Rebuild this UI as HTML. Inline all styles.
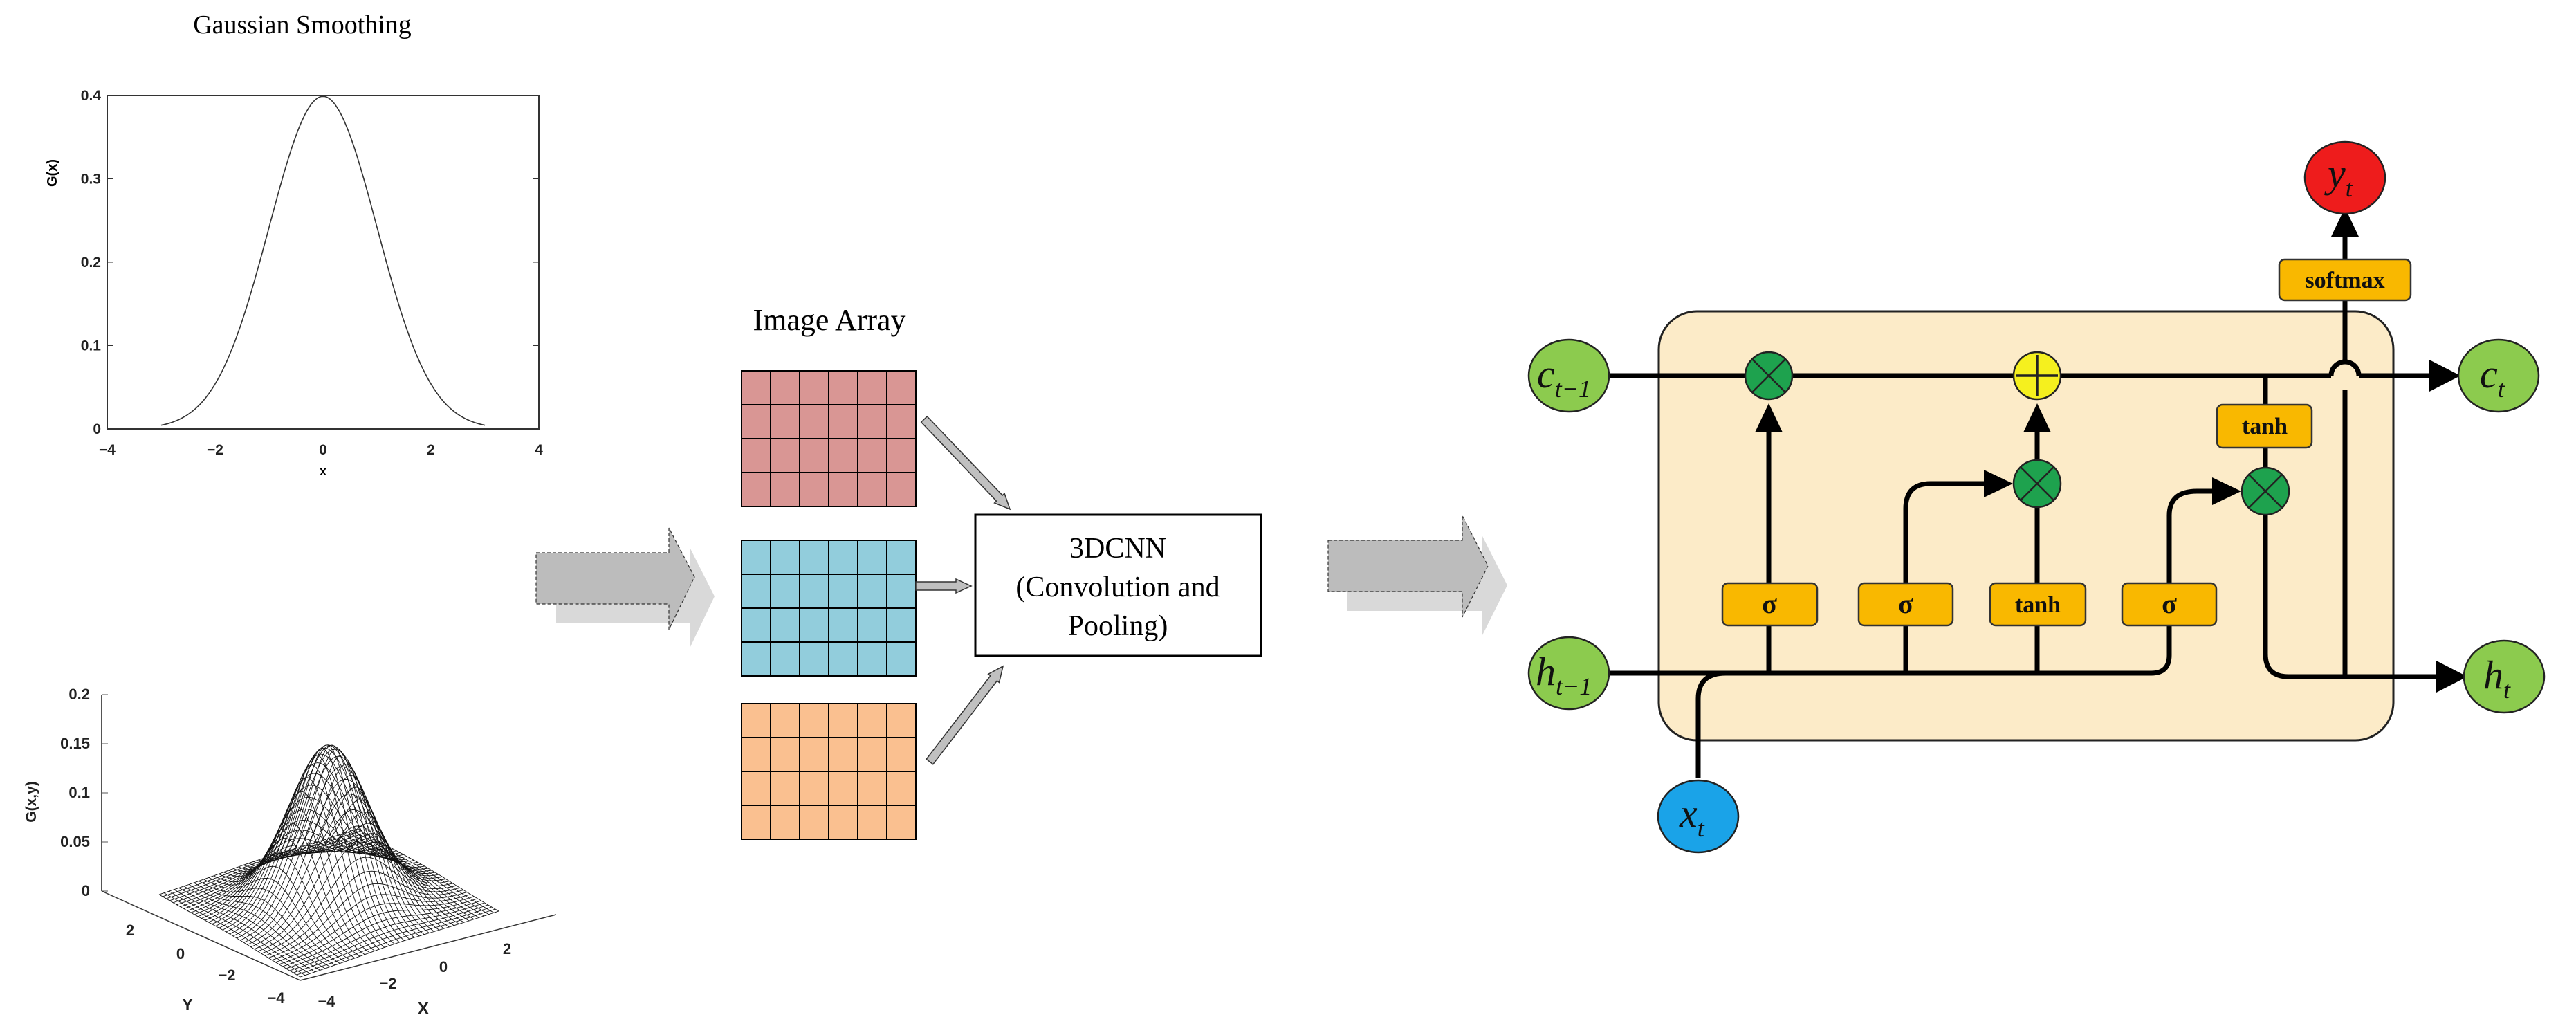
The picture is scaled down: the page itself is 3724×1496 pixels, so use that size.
<!DOCTYPE html>
<html><head><meta charset="utf-8"><style>
html,body{margin:0;padding:0;background:#fff;}
svg{display:block;}
</style></head><body>
<svg id="s" width="3724" height="1496" viewBox="0 0 3724 1496" xmlns="http://www.w3.org/2000/svg">
<rect width="3724" height="1496" fill="#fff"/>
<text x="437" y="48" font-family="Liberation Serif" font-size="38" text-anchor="middle">Gaussian Smoothing</text>
<!-- Plot 1 -->
<rect x="155" y="138" width="624" height="482" fill="none" stroke="#333" stroke-width="2"/>
<g id="p1" font-family="Liberation Sans" font-size="21" font-weight="bold" fill="#222"></g>
<path id="gc" fill="none" stroke="#333" stroke-width="1.6"/>
<text transform="translate(82,250) rotate(-90)" font-family="Liberation Sans" font-size="20" font-weight="bold" text-anchor="middle">G(x)</text>
<text x="467" y="687" font-family="Liberation Sans" font-size="18" font-weight="bold" text-anchor="middle">x</text>
<!-- Plot 2 -->
<g id="p2" font-family="Liberation Sans" font-size="22" font-weight="bold" fill="#222"></g>
<g id="mesh" fill="none" stroke="#111" stroke-width="0.9"></g>
<!-- big arrows -->
<polygon points="804,829 997,829 997,791 1033,862 997,937 997,901 804,901" fill="#d9d9d9"/>
<polygon points="775,799 967,799 967,763 1004,834 967,910 967,873 775,873" fill="#bcbcbc" stroke="#333" stroke-width="1.2" stroke-dasharray="5,3"/>
<polygon points="1948,809 2142,809 2142,773 2179,846 2142,920 2142,883 1948,883" fill="#d9d9d9"/>
<polygon points="1920,781 2114,781 2114,745 2151,818 2114,892 2114,855 1920,855" fill="#bcbcbc" stroke="#333" stroke-width="1.2" stroke-dasharray="5,3"/>
<!-- Image array -->
<text x="1199" y="477" font-family="Liberation Serif" font-size="44" text-anchor="middle">Image Array</text>
<g id="grids"></g>
<rect x="1410" y="744" width="413" height="204" fill="#fff" stroke="#000" stroke-width="3"/>
<g font-family="Liberation Serif" font-size="42" text-anchor="middle">
<text x="1616" y="806">3DCNN</text>
<text x="1616" y="862">(Convolution and</text>
<text x="1616" y="918">Pooling)</text>
</g>
<g id="sa"></g>
<!-- LSTM -->
<rect x="2398" y="450" width="1062" height="620" rx="55" fill="#fcebc8" stroke="#222" stroke-width="3"/>
<g fill="none" stroke="#000" stroke-width="7">
<line x1="2320" y1="543" x2="3370" y2="543"/>
<path d="M3370,543 a20,20 0 0 1 40,0"/>
<line x1="3410" y1="543" x2="3520" y2="543"/>
<line x1="2320" y1="973" x2="3110" y2="973"/>
<path d="M3110,973 q26,0 26,-26 V745 q0,-35 40,-35 H3225"/>
<line x1="2557" y1="973" x2="2557" y2="618"/>
<path d="M2755,973 V735 q0,-36 36,-36 H2890"/>
<line x1="2945" y1="973" x2="2945" y2="618"/>
<path d="M2455,1125 V1010 q0,-37 40,-37"/>
<line x1="3275" y1="543" x2="3275" y2="710"/>
<path d="M3275,710 V945 q0,33 33,33 H3530"/>
<path d="M3390,978 V563 M3390,523 V434"/>
<line x1="3390" y1="375" x2="3390" y2="340"/>
</g>
<g fill="#000">
<polygon points="2557,583 2537,625 2577,625"/>
<polygon points="2945,583 2925,625 2965,625"/>
<polygon points="2910,699 2868,679 2868,719"/>
<polygon points="3240,710 3198,690 3198,730"/>
<polygon points="3557,543 3512,520 3512,566"/>
<polygon points="3567,978 3522,955 3522,1001"/>
<polygon points="3390,300 3370,342 3410,342"/>
</g>
<g stroke="#333" stroke-width="2.5" fill="#f9b800">
<rect x="2490" y="843" width="137" height="61" rx="8"/>
<rect x="2687" y="843" width="136" height="61" rx="8"/>
<rect x="2877" y="843" width="138" height="61" rx="8"/>
<rect x="3068" y="843" width="136" height="61" rx="8"/>
<rect x="3205" y="585" width="137" height="62" rx="8"/>
<rect x="3295" y="375" width="190" height="59" rx="8"/>
</g>
<g font-family="Liberation Serif" font-weight="bold" text-anchor="middle" fill="#111">
<text x="2558" y="886" font-size="40">σ</text>
<text x="2755" y="886" font-size="40">σ</text>
<text x="2946" y="885" font-size="34">tanh</text>
<text x="3136" y="886" font-size="40">σ</text>
<text x="3274" y="627" font-size="34">tanh</text>
<text x="3390" y="416" font-size="34">softmax</text>
</g>
<g stroke="#222" stroke-width="2.5">
<circle cx="2557" cy="543" r="34" fill="#1ea24e"/>
<circle cx="2945" cy="699" r="34" fill="#1ea24e"/>
<circle cx="3275" cy="710" r="34" fill="#1ea24e"/>
<circle cx="2945" cy="543" r="34" fill="#f5f01e"/>
<path d="M2533,519 L2581,567 M2581,519 L2533,567 M2921,675 L2969,723 M2969,675 L2921,723 M3251,686 L3299,734 M3299,686 L3251,734" fill="none"/>
<path d="M2945,513 V573 M2915,543 H2975" fill="none" stroke-width="3.5"/>
<ellipse cx="2268" cy="543" rx="58" ry="52" fill="#8ccb4e"/>
<ellipse cx="2268" cy="973" rx="58" ry="52" fill="#8ccb4e"/>
<ellipse cx="3612" cy="543" rx="58" ry="52" fill="#8ccb4e"/>
<ellipse cx="3620" cy="978" rx="58" ry="52" fill="#8ccb4e"/>
<ellipse cx="2455" cy="1180" rx="58" ry="52" fill="#1aa3e8"/>
<ellipse cx="3390" cy="257" rx="58" ry="52" fill="#ee1c1c"/>
</g>
<g font-family="Liberation Serif" font-style="italic" fill="#111">
<text x="2222" y="560" font-size="58">c<tspan font-size="36" dy="14">t−1</tspan></text>
<text x="2220" y="990" font-size="58">h<tspan font-size="36" dy="14">t−1</tspan></text>
<text x="3585" y="560" font-size="58">c<tspan font-size="36" dy="14">t</tspan></text>
<text x="3590" y="995" font-size="58">h<tspan font-size="36" dy="14">t</tspan></text>
<text x="2428" y="1195" font-size="58">x<tspan font-size="36" dy="14">t</tspan></text>
<text x="3365" y="270" font-size="58">y<tspan font-size="36" dy="14">t</tspan></text>
</g>
</svg>
<script>
var NS="http://www.w3.org/2000/svg";
function el(p,t,a,txt){var e=document.createElementNS(NS,t);for(var k in a)e.setAttribute(k,a[k]);if(txt!==undefined)e.textContent=txt;document.getElementById(p).appendChild(e);return e;}
var d="";for(var i=0;i<=240;i++){var x=-3+6*i/240;var y=Math.exp(-x*x/2)/Math.sqrt(2*Math.PI);d+=(i?"L":"M")+(467+x*78).toFixed(1)+","+(620-y*1205).toFixed(1);}
document.getElementById("gc").setAttribute("d",d);
[0,0.1,0.2,0.3,0.4].forEach(function(v){var y=620-v*1205;el("p1","text",{x:146,y:y+7,"text-anchor":"end"},v===0?"0":v.toFixed(1));el("p1","line",{x1:155,y1:y,x2:163,y2:y,stroke:"#333"});el("p1","line",{x1:771,y1:y,x2:779,y2:y,stroke:"#333"});});
[-4,-2,0,2,4].forEach(function(v){var x=467+v*78;el("p1","text",{x:x,y:657,"text-anchor":"middle"},v<0?"−"+(-v):""+v);});
el("p2","line",{x1:147,y1:1004,x2:147,y2:1288,stroke:"#555","stroke-width":2});
[["0.2",1004],["0.15",1075],["0.1",1146],["0.05",1217],["0",1288]].forEach(function(a){el("p2","text",{x:130,y:a[1]+7,"text-anchor":"end"},a[0]);el("p2","line",{x1:147,y1:a[1],x2:156,y2:a[1],stroke:"#555"});});
el("p2","line",{x1:147,y1:1288,x2:434,y2:1417,stroke:"#333","stroke-width":1.5});
el("p2","line",{x1:434,y1:1417,x2:804,y2:1322,stroke:"#333","stroke-width":1.5});
[["2",188,1352],["0",261,1386],["−2",328,1417],["−4",399,1450],["−4",472,1455],["−2",561,1429],["0",641,1405],["2",733,1379]].forEach(function(a){el("p2","text",{x:a[1],y:a[2],"text-anchor":"middle"},a[0]);});
el("p2","text",{x:271,y:1460,"text-anchor":"middle","font-size":23},"Y");
el("p2","text",{x:612,y:1466,"text-anchor":"middle","font-size":25},"X");
el("p2","text",{transform:"translate(52,1159) rotate(-90)","text-anchor":"middle","font-size":21},"G(x,y)");
function P(X,Y){var z=Math.exp(-(X*X+Y*Y)/2)/(2*Math.PI);var u=(X+3)/6,v=(Y+3)/6;return [434+u*287+v*(-204),1412+u*(-95)+v*(-119)-z*1428];}
var N=40;
for(var i=0;i<=N;i++){var a=-3+6*i/N,d1="",d2="";for(var j=0;j<=80;j++){var b=-3+6*j/80;var p=P(a,b),q=P(b,a);d1+=(j?"L":"M")+p[0].toFixed(1)+","+p[1].toFixed(1);d2+=(j?"L":"M")+q[0].toFixed(1)+","+q[1].toFixed(1);}el("mesh","path",{d:d1});el("mesh","path",{d:d2});}
[[536,"#d99694"],[781,"#92cddc"],[1017,"#fac090"]].forEach(function(g){var x0=1072,w=252,h=196;el("grids","rect",{x:x0,y:g[0],width:w,height:h,fill:g[1],stroke:"#000","stroke-width":2});for(var c=1;c<6;c++)el("grids","line",{x1:x0+w*c/6,y1:g[0],x2:x0+w*c/6,y2:g[0]+h,stroke:"#000","stroke-width":2});for(var r=1;r<4;r++)el("grids","line",{x1:x0,y1:g[0]+h*r/4,x2:x0+w,y2:g[0]+h*r/4,stroke:"#000","stroke-width":2});});
function sarrow(x1,y1,x2,y2){var dx=x2-x1,dy=y2-y1,L=Math.hypot(dx,dy),ux=dx/L,uy=dy/L,nx=-uy,ny=ux,w=6,hw=10,hl=22;var bx=x2-ux*hl,by=y2-uy*hl;var pts=[[x1+nx*w,y1+ny*w],[bx+nx*w,by+ny*w],[bx+nx*hw,by+ny*hw],[x2,y2],[bx-nx*hw,by-ny*hw],[bx-nx*w,by-ny*w],[x1-nx*w,y1-ny*w]];el("sa","polygon",{points:pts.map(function(p){return p[0].toFixed(1)+","+p[1].toFixed(1)}).join(" "),fill:"#c0c0c0",stroke:"#333","stroke-width":1.5});}
sarrow(1336,606,1460,736);sarrow(1324,847,1404,847);sarrow(1344,1101,1450,963);
</script>
</body></html>
